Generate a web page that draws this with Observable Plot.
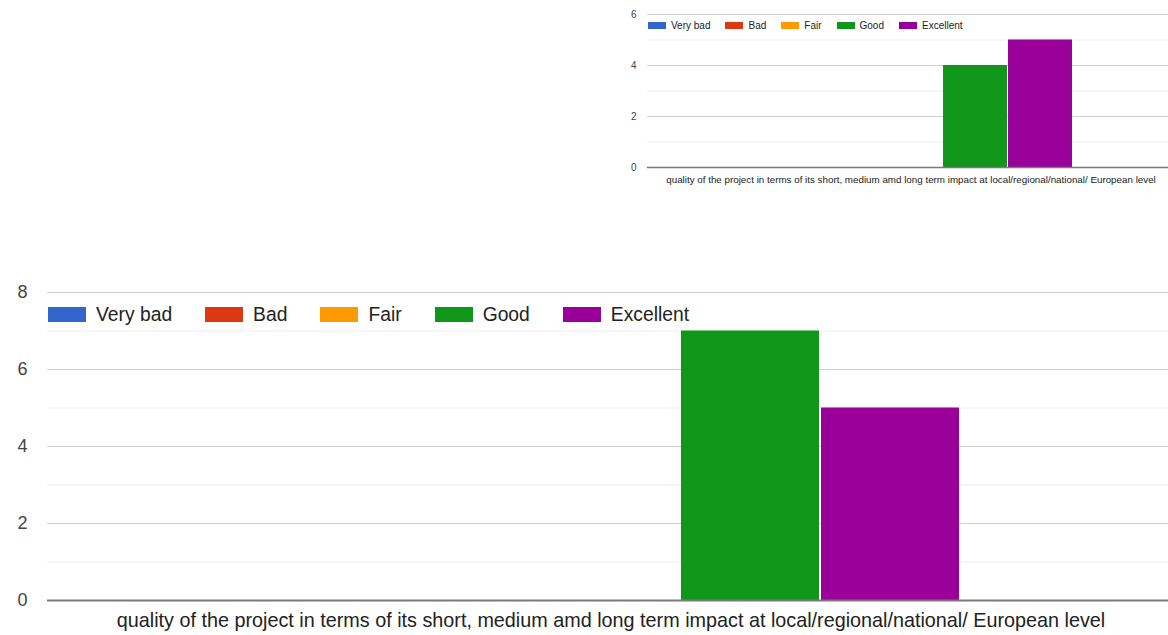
<!DOCTYPE html>
<html>
<head>
<meta charset="utf-8">
<script src="https://cdn.jsdelivr.net/npm/d3@7"></script>
<script src="https://cdn.jsdelivr.net/npm/@observablehq/plot@0.6"></script>
<style>
  html, body { margin: 0; padding: 0; background: #fff; overflow: hidden; }
  #page { position: relative; width: 1168px; height: 635px; overflow: hidden; background: #fff;
          font-family: "Liberation Sans", Arial, sans-serif; }
  .chart { position: absolute; }
  .chart svg { display: block; max-width: none !important; }
  .legend { position: absolute; }

  /* large legend */
  .lgb-swatches { font-family: "Liberation Sans", Arial, sans-serif; font-size: 19.3px; color: #222; margin: 0; }
  .lgb-swatches-wrap { min-height: 22px; height: 22px; flex-wrap: nowrap; }
  .lgb-swatch { margin-right: 33px; white-space: nowrap; }
  .lgb-swatch > svg { margin-right: 10px; }

  /* small legend */
  .lgs-swatches { font-family: "Liberation Sans", Arial, sans-serif; font-size: 10px; color: #222; margin: 0; }
  .lgs-swatches-wrap { min-height: 12px; height: 12px; flex-wrap: nowrap; }
  .lgs-swatch { margin-right: 15px; white-space: nowrap; }
  .lgs-swatch > svg { margin-right: 5px; }
</style>
</head>
<body>
<div id="page"></div>
<script>
// Rating categories and their colours
const ratings = ["Very bad", "Bad", "Fair", "Good", "Excellent"];
const ratingColors = ["#3366cc", "#dc3912", "#ff9900", "#109618", "#990099"];

// The question both charts answer
const category = "quality of the project in terms of its short, medium amd long term impact at local/regional/national/ European level";

// Response counts per rating
const countsTop = [0, 0, 0, 4, 5];
const countsBottom = [0, 0, 0, 7, 5];

// Axis ticks
const majorTicksTop = [0, 2, 4, 6];
const minorTicksTop = [1, 3, 5];
const majorTicksBottom = [0, 2, 4, 6, 8];
const minorTicksBottom = [1, 3, 5, 7];

const page = document.getElementById("page");

function drawChart(cfg) {
  const rows = ratings.map((r, i) => ({rating: r, count: cfg.counts[i]}));
  const chart = Plot.plot({
    width: cfg.width,
    height: cfg.height,
    marginLeft: cfg.marginLeft,
    marginRight: 0,
    marginTop: cfg.marginTop,
    marginBottom: cfg.marginBottom,
    style: {fontFamily: "Liberation Sans, Arial, sans-serif", fontSize: cfg.font + "px", color: "#222", background: "transparent", maxWidth: "none"},
    x: {domain: ratings, paddingInner: cfg.paddingInner, paddingOuter: cfg.paddingOuter, axis: null},
    y: {domain: [0, cfg.yMax], axis: null},
    color: {domain: ratings, range: ratingColors},
    marks: [
      Plot.ruleY(cfg.minor, {stroke: "#ececec"}),
      Plot.ruleY(cfg.major.filter(d => d > 0), {stroke: "#cfcfcf"}),
      Plot.barY(rows, {x: "rating", y: "count", fill: "rating"}),
      Plot.ruleY([0], {stroke: "#7a7a7a", strokeWidth: cfg.baseWidth}),
      Plot.axisY({ticks: cfg.major, tickFormat: d => String(d), tickSize: 0, tickPadding: cfg.tickPadding, label: null, fill: "#444", fontSize: cfg.tickFont}),
      Plot.text([category], {text: d => d, frameAnchor: "bottom", dy: cfg.labelDy, fill: "#222"})
    ]
  });
  const wrap = document.createElement("div");
  wrap.className = "chart";
  wrap.style.left = cfg.left + "px";
  wrap.style.top = cfg.top + "px";
  wrap.style.width = cfg.width + "px";
  wrap.appendChild(chart);
  page.appendChild(wrap);

  const legend = Plot.legend({
    color: {type: "categorical", domain: ratings, range: ratingColors},
    legend: "swatches",
    swatchWidth: cfg.swatchW,
    swatchHeight: cfg.swatchH,
    className: cfg.legendClass
  });
  const lw = document.createElement("div");
  lw.className = "legend";
  lw.style.left = cfg.legendLeft + "px";
  lw.style.top = cfg.legendTop + "px";
  lw.appendChild(legend);
  page.appendChild(lw);
}

// Small chart, upper right
drawChart({
  counts: countsTop, yMax: 6, major: majorTicksTop, minor: minorTicksTop,
  left: 610, top: 0, width: 564, height: 195,
  marginLeft: 37, marginTop: 14, marginBottom: 28,
  paddingInner: 0.015, paddingOuter: 1.56,
  font: 9.8, tickFont: 10, tickPadding: 11, labelDy: 15.5, baseWidth: 1.5,
  swatchW: 18, swatchH: 7, legendClass: "lgs", legendLeft: 648, legendTop: 19
});

// Large chart, bottom
drawChart({
  counts: countsBottom, yMax: 8, major: majorTicksBottom, minor: minorTicksBottom,
  left: 0, top: 270, width: 1174, height: 365,
  marginLeft: 47, marginTop: 22, marginBottom: 35,
  paddingInner: 0.014, paddingOuter: 1.532,
  font: 19.8, tickFont: 18, tickPadding: 20, labelDy: 26, baseWidth: 2,
  swatchW: 38, swatchH: 15, legendClass: "lgb", legendLeft: 48, legendTop: 303.5
});
</script>
</body>
</html>
